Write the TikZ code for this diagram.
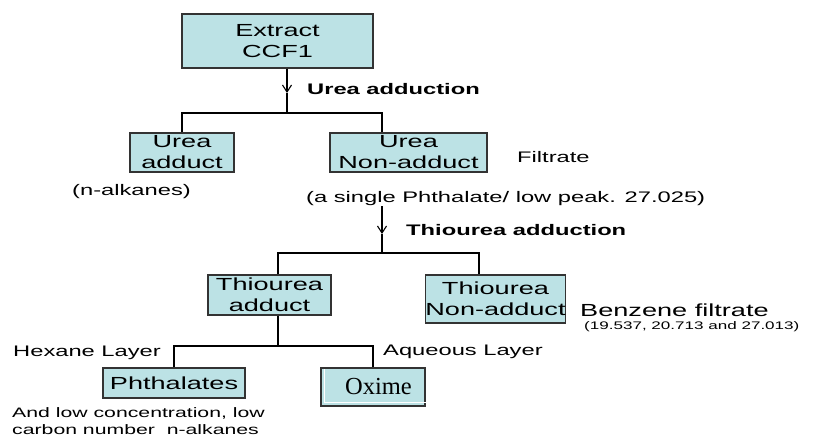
\documentclass[tikz,border=0pt]{standalone}
\usepackage{fontspec}
\setmainfont{Liberation Sans}[FakeStretch=1.55]
\newfontfamily\serifbox{Liberation Serif}
\usetikzlibrary{arrows.meta, positioning}
\definecolor{boxfill}{HTML}{BCE2E5}
\definecolor{edge}{HTML}{333333}
\tikzset{
  box/.style={
    rectangle, draw=edge, fill=boxfill, line width=1.3pt,
    inner sep=0pt, align=center, font=\fontsize{17.5}{21}\selectfont
  },
  note/.style={inner sep=0pt, anchor=west, font=\fontsize{15.3}{18}\selectfont},
  bignote/.style={note, font=\fontsize{17.5}{21}\selectfont},
  smallnote/.style={note, font=\fontsize{11}{13}\selectfont},
  process/.style={note, font=\bfseries\fontsize{15.3}{18}\selectfont},
  link/.style={line width=1.1pt, draw=black},
  flow/.style={link, -{Straight Barb[length=7pt,width=9pt]}},
}
\begin{document}
\begin{tikzpicture}[x=1pt, y=-1pt]
  \useasboundingbox (0,0) rectangle (819,439);

  % urea step
  \node[box, minimum width=191pt, minimum height=54pt] (extract) at (277.5,41) {Extract\\CCF1};
  \coordinate (tip1) at (287,93);
  \coordinate (split1) at (287,113);
  \coordinate (drop1) at (382,113);
  \node[process] (urearun) at (307,89) {Urea adduction};

  \node[box, minimum width=104pt, minimum height=39pt] (ureaadd) at (182,152.5) {Urea\\adduct};
  \node[box, minimum width=157pt, minimum height=39pt] (ureanon) at (408.5,152.5) {Urea\\Non-adduct};
  \node[note] (filtrate) at (517,157) {Filtrate};
  \node[note] (alkanes) at (72,192) {(n-alkanes)};
  \node[note] (ureanotes) at (306,199) {(a single Phthalate/ low peak. 27.025)};

  \draw[flow] (extract.south -| tip1) -- (tip1);
  \draw[link] (tip1) -- (split1);
  \draw[link] (ureaadd.north) |- (drop1) -- (drop1 |- ureanon.north);

  % thiourea step
  \coordinate (tip2) at (382,234);
  \coordinate (split2) at (382,253);
  \coordinate (left2) at (278,253);
  \coordinate (right2) at (479,253);
  \node[process] (thiorun) at (406,230) {Thiourea adduction};

  \node[box, minimum width=123pt, minimum height=40pt] (thioadd) at (269.5,295) {Thiourea\\adduct};
  \node[box, minimum width=139pt, minimum height=48pt] (thionon) at (495.5,299) {Thiourea\\Non-adduct};
  \node[bignote] (benzene) at (580,310) {Benzene filtrate};
  \node[smallnote] (numbers) at (584,327) {(19.537, 20.713 and 27.013)};

  \draw[flow] (ureanotes.south -| tip2) -- (tip2);
  \draw[link] (tip2) -- (split2);
  \draw[link] (left2 |- thioadd.north) |- (right2) -- (right2 |- thionon.north);

  % layers
  \coordinate (split3) at (278,346);
  \node[box, minimum width=142pt, minimum height=30pt] (phthalates) at (174,383) {Phthalates};
  \node[box, minimum width=104pt, minimum height=38pt, font=\serifbox\fontsize{24.5}{26}\selectfont] (oxime) at (373,387) {\kern11pt Oxime};
  \draw[white, line width=1pt] ([xshift=4pt, yshift=-2pt]oxime.north west) -- ([xshift=4pt, yshift=4pt]oxime.south west) -- ([xshift=3pt, yshift=4pt]oxime.south east);
  \node[note] (hexane) at (13,353) {Hexane Layer};
  \node[note] (aqueous) at (383,352) {Aqueous Layer};
  \node[note, align=left, font=\fontsize{13.7}{16.5}\selectfont] (phthnotes) at (12,421) {And low concentration, low\\carbon number~~n-alkanes};

  \draw[link] (thioadd.south -| split3) -- (split3);
  \draw[link] (phthalates.north) |- (split3) -| (oxime.north);
\end{tikzpicture}
\end{document}
